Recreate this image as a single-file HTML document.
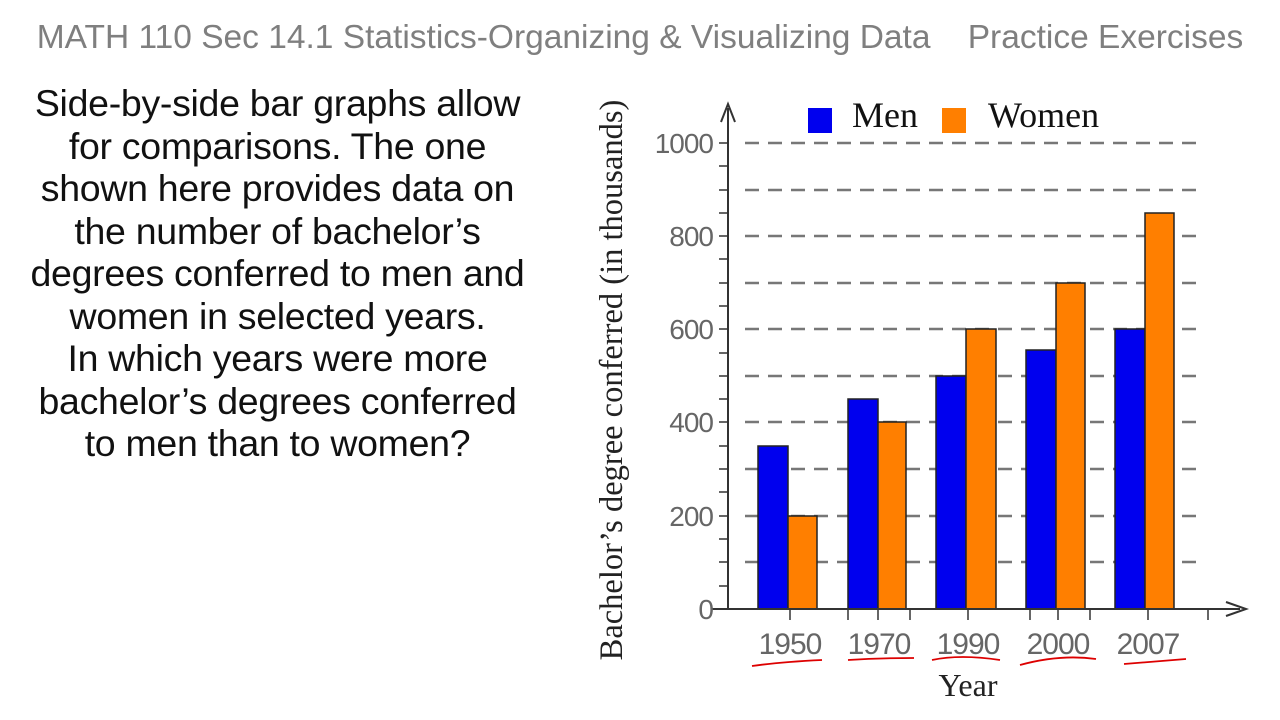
<!DOCTYPE html>
<html><head><meta charset="utf-8"><style>
body{margin:0;width:1280px;height:720px;background:#fff;overflow:hidden;position:relative;font-family:"Liberation Sans",sans-serif}
.title{position:absolute;left:0;width:1280px;top:19px;text-align:center;color:#7f7f7f;font-size:33.5px;white-space:pre;letter-spacing:0px}
.txt{position:absolute;left:0;width:555px;top:82px;text-align:center;font-size:37.5px;line-height:42.5px;color:#111;letter-spacing:-0.3px}
</style></head><body>
<div class="title">MATH 110 Sec 14.1 Statistics-Organizing &amp; Visualizing Data    Practice Exercises</div>
<div class="txt">Side-by-side bar graphs allow<br>for comparisons. The one<br>shown here provides data on<br>the number of bachelor’s<br>degrees conferred to men and<br>women in selected years.<br>In which years were more<br>bachelor’s degrees conferred<br>to men than to women?</div>
<svg width="1280" height="720" style="position:absolute;left:0;top:0" font-family="Liberation Serif,serif">
<g stroke="#777" stroke-width="2.5" stroke-dasharray="14,9">
<line x1="745" x2="1205" y1="143" y2="143"/><line x1="745" x2="1205" y1="190" y2="190"/>
<line x1="745" x2="1205" y1="236" y2="236"/><line x1="745" x2="1205" y1="283" y2="283"/>
<line x1="745" x2="1205" y1="329" y2="329"/><line x1="745" x2="1205" y1="376" y2="376"/>
<line x1="745" x2="1205" y1="422" y2="422"/><line x1="745" x2="1205" y1="469" y2="469"/>
<line x1="745" x2="1205" y1="516" y2="516"/><line x1="745" x2="1205" y1="562" y2="562"/>
</g>
<g stroke="#222" stroke-width="1.5">
<rect x="758" y="446" width="30" height="163" fill="#0000ee"/><rect x="788" y="516" width="29" height="93" fill="#ff7f00"/>
<rect x="848" y="399" width="30" height="210" fill="#0000ee"/><rect x="878" y="422" width="28" height="187" fill="#ff7f00"/>
<rect x="936" y="376" width="30" height="233" fill="#0000ee"/><rect x="966" y="329" width="30" height="280" fill="#ff7f00"/>
<rect x="1026" y="350" width="30" height="259" fill="#0000ee"/><rect x="1056" y="283" width="29" height="326" fill="#ff7f00"/>
<rect x="1115" y="329" width="30" height="280" fill="#0000ee"/><rect x="1145" y="213" width="29" height="396" fill="#ff7f00"/>
</g>
<g stroke="#333" stroke-width="2" fill="none">
<line x1="728" y1="609" x2="728" y2="108"/><line x1="712" y1="609" x2="1240" y2="609"/>
<path d="M721,122 L728,104 L735,122"/><path d="M1226,602 L1246,609 L1226,616"/>
<g stroke-width="1.5">
<line x1="719" x2="728" y1="143" y2="143"/><line x1="719" x2="728" y1="166" y2="166"/><line x1="719" x2="728" y1="190" y2="190"/><line x1="719" x2="728" y1="213" y2="213"/><line x1="719" x2="728" y1="236" y2="236"/><line x1="719" x2="728" y1="259" y2="259"/><line x1="719" x2="728" y1="283" y2="283"/><line x1="719" x2="728" y1="306" y2="306"/><line x1="719" x2="728" y1="329" y2="329"/><line x1="719" x2="728" y1="353" y2="353"/><line x1="719" x2="728" y1="376" y2="376"/><line x1="719" x2="728" y1="399" y2="399"/><line x1="719" x2="728" y1="422" y2="422"/><line x1="719" x2="728" y1="446" y2="446"/><line x1="719" x2="728" y1="469" y2="469"/><line x1="719" x2="728" y1="492" y2="492"/><line x1="719" x2="728" y1="516" y2="516"/><line x1="719" x2="728" y1="539" y2="539"/><line x1="719" x2="728" y1="562" y2="562"/><line x1="719" x2="728" y1="586" y2="586"/>
<line x1="790" x2="790" y1="609" y2="620"/><line x1="848" x2="848" y1="609" y2="620"/><line x1="878" x2="878" y1="609" y2="620"/><line x1="910" x2="910" y1="609" y2="620"/><line x1="968" x2="968" y1="609" y2="620"/><line x1="1030" x2="1030" y1="609" y2="620"/><line x1="1058" x2="1058" y1="609" y2="620"/><line x1="1090" x2="1090" y1="609" y2="620"/><line x1="1148" x2="1148" y1="609" y2="620"/><line x1="1208" x2="1208" y1="609" y2="620"/>
</g></g>
<g font-family="Liberation Sans,sans-serif" font-size="28" fill="#666" text-anchor="end" letter-spacing="-1">
<text x="713" y="153">1000</text><text x="713" y="246">800</text><text x="713" y="339">600</text><text x="713" y="432">400</text><text x="713" y="526">200</text><text x="713" y="619">0</text>
</g>
<g font-family="Liberation Sans,sans-serif" font-size="30" fill="#666" text-anchor="middle" letter-spacing="-1">
<text x="790" y="654">1950</text><text x="879" y="654">1970</text><text x="968" y="654">1990</text><text x="1058" y="654">2000</text><text x="1148" y="654">2007</text>
</g>
<g stroke="#d00" stroke-width="1.8" fill="none">
<path d="M752,666 Q780,662 822,660"/><path d="M848,660 Q880,658 914,658"/><path d="M932,660 Q960,654 1000,660"/><path d="M1020,665 Q1060,654 1096,659"/><path d="M1124,664 Q1150,662 1186,659"/>
</g>
<text x="968" y="696" font-size="32" text-anchor="middle" fill="#222">Year</text>
<text transform="translate(622,380) rotate(-90)" font-size="32.5" text-anchor="middle" fill="#222">Bachelor’s degree conferred (in thousands)</text>
<rect x="808" y="108" width="24" height="25" fill="#0000ee"/><text x="852" y="127" font-size="36" fill="#111">Men</text>
<rect x="942" y="108" width="24" height="25" fill="#ff7f00"/><text x="988" y="127" font-size="36" fill="#111">Women</text>
</svg>
</body></html>
